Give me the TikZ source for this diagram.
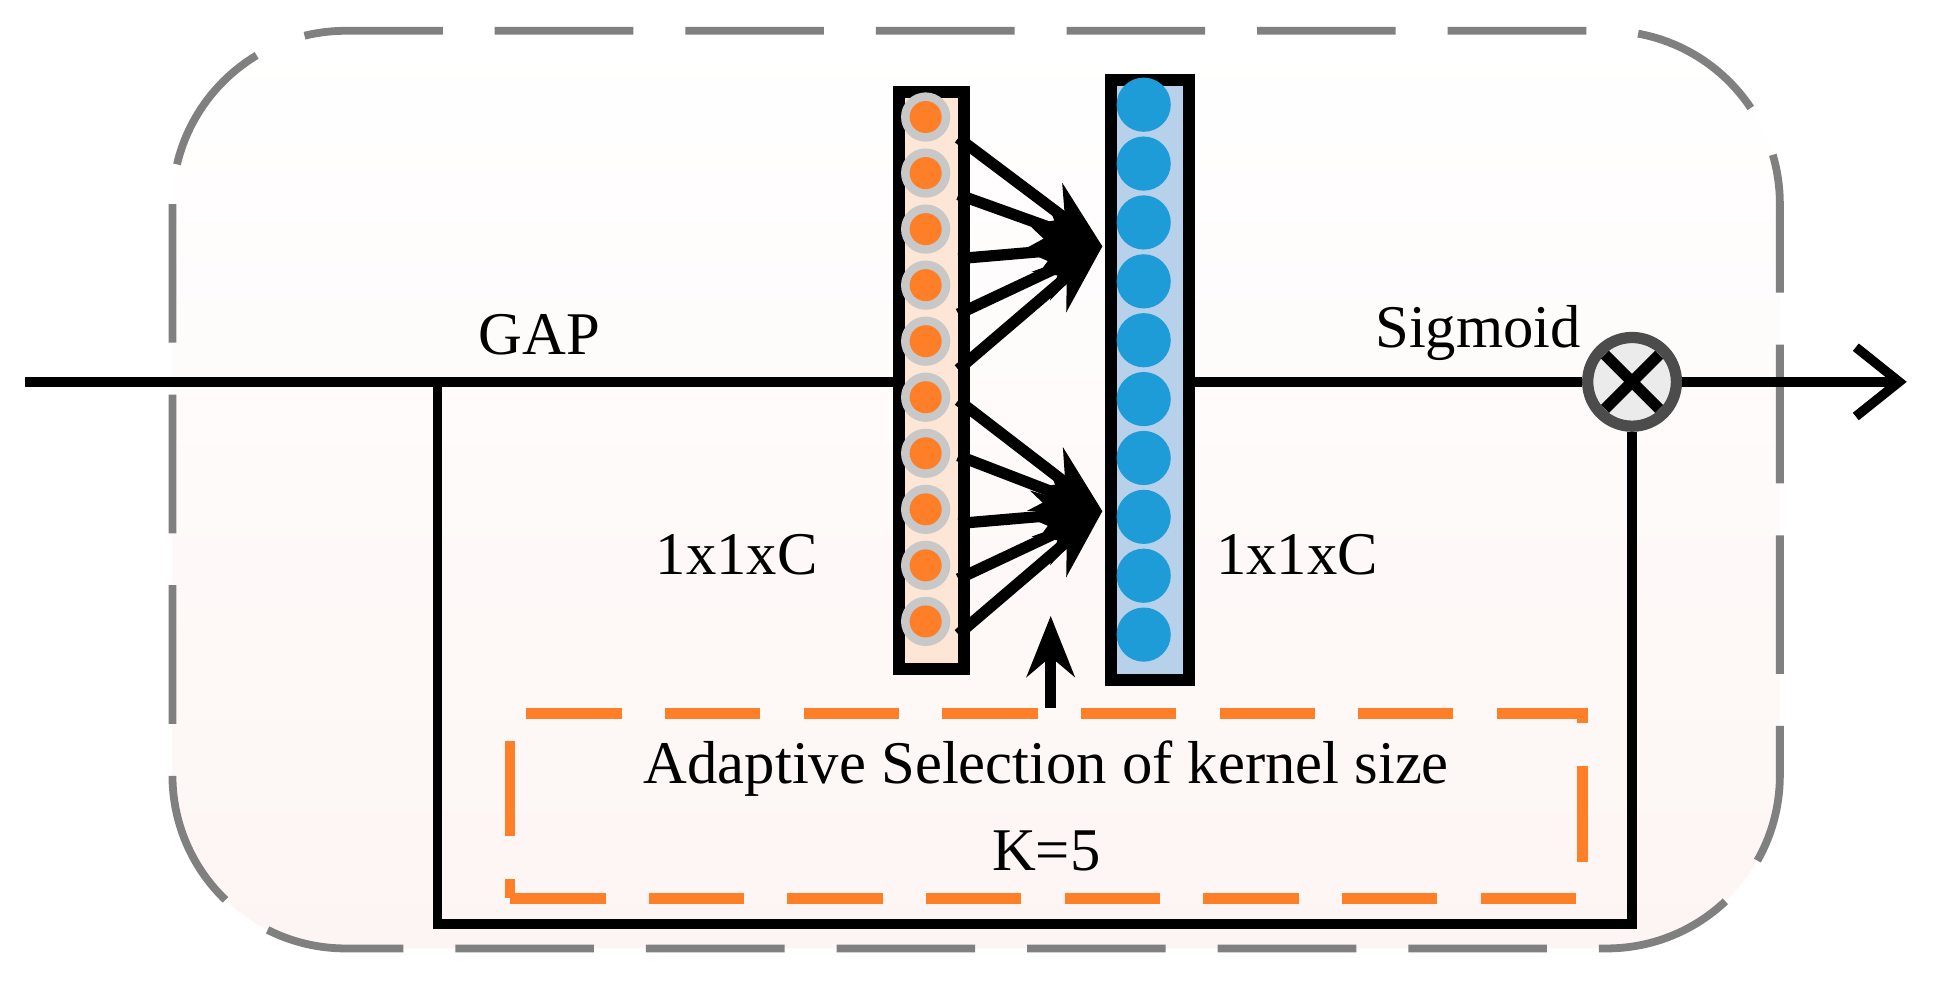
\documentclass[tikz,border=0pt]{standalone}
\usepackage{fontspec}
\setmainfont{Liberation Serif}
\usetikzlibrary{arrows.meta,positioning,calc}
\definecolor{bgpink}{HTML}{FDF5F3}
\definecolor{dotorange}{HTML}{FE7F27}
\definecolor{colorange}{HTML}{FDE6D6}
\definecolor{dotblue}{HTML}{1E9CD8}
\definecolor{colblue}{HTML}{B7D1EB}
\definecolor{ringgray}{HTML}{C8C8C8}
\tikzset{
  line/.style={line width=2.2pt},
  fan/.style={line width=2.6pt, -{Stealth[length=16pt,width=12pt]}},
  lbl/.style={font=\fontsize{14}{16}\selectfont, inner sep=0pt},
  column/.style={draw, line width=2.8pt},
}
\begin{document}
\begin{tikzpicture}[x=0.01cm,y=-0.01cm]
    \useasboundingbox (0,0) rectangle (1575,797);
    % outer frame
    \shade[rounded corners=40, top color=white, bottom color=bgpink] (140,25) rectangle (1445,770);
    \draw[gray, line width=1.8pt, rounded corners=40, dash pattern=on 32pt off 12pt] (140,25) rectangle (1445,770);

    % columns
    \node[column, fill=colorange, minimum width=0.53cm, minimum height=4.68cm, inner sep=0pt, anchor=north west] (orange) at (725,70) {};
    \node[column, fill=colblue, minimum width=0.63cm, minimum height=4.87cm, inner sep=0pt, anchor=north west] (blue) at (897,60) {};
    \foreach \i in {0,...,9} {
        \fill[ringgray] (751.5,{95+45.5*\i}) circle (20);
        \fill[dotorange] (751.5,{95+45.5*\i}) circle (13);
        \fill[dotblue] (928.5,{85+47.8*\i}) circle (22);
    }

    % fan arrows
    \coordinate (tipA) at (895,200);
    \coordinate (tipB) at (895,415);
    \foreach \y in {112,158,210,255,300} \draw[fan] (778,\y) -- (tipA);
    \foreach \y in {325,370,425,470,515} \draw[fan] (778,\y) -- (tipB);

    % multiply node
    \node[circle, draw=black!70, fill=black!8, line width=2.6pt, minimum size=0.72cm, inner sep=0pt] (mul) at (1325,310) {};
    \draw[line width=2.6pt] ($(mul.center)+(-22,-22)$) -- ($(mul.center)+(22,22)$);
    \draw[line width=2.6pt] ($(mul.center)+(-22,22)$) -- ($(mul.center)+(22,-22)$);

    % main path
    \coordinate (in) at (20,310);
    \coordinate (split) at (355,310);
    \coordinate (out) at (1548,310);
    \draw[line] (in) -- (orange.west |- in);
    \draw[line] (blue.east |- in) -- (mul.west);
    \draw[line, -{Straight Barb[length=10pt,width=16pt]}] (mul.east) -- (out);
    \draw[line] (split) -- (355,750) -- (mul.south |- 0,750) -- (mul.south);

    % kernel size box
    \node[draw=dotorange, line width=2.4pt, dash pattern=on 22pt off 10pt, minimum width=8.7cm, minimum height=1.5cm, align=center, lbl, anchor=north west] (ksize) at (410,575) {Adaptive Selection of kernel size\\[4pt]K=5};
    \draw[line width=2.6pt, -{Stealth[length=14pt,width=11pt]}] (ksize.north -| 853,0) -- (853,500);

    % labels
    \node[lbl] (gap) at (438,272) {GAP};
    \node[lbl] (sig) at (1200,270) {Sigmoid};
    \node[lbl] (cin) at (598,450) {1x1xC};
    \node[lbl] (cout) at (1053,450) {1x1xC};
\end{tikzpicture}
\end{document}
